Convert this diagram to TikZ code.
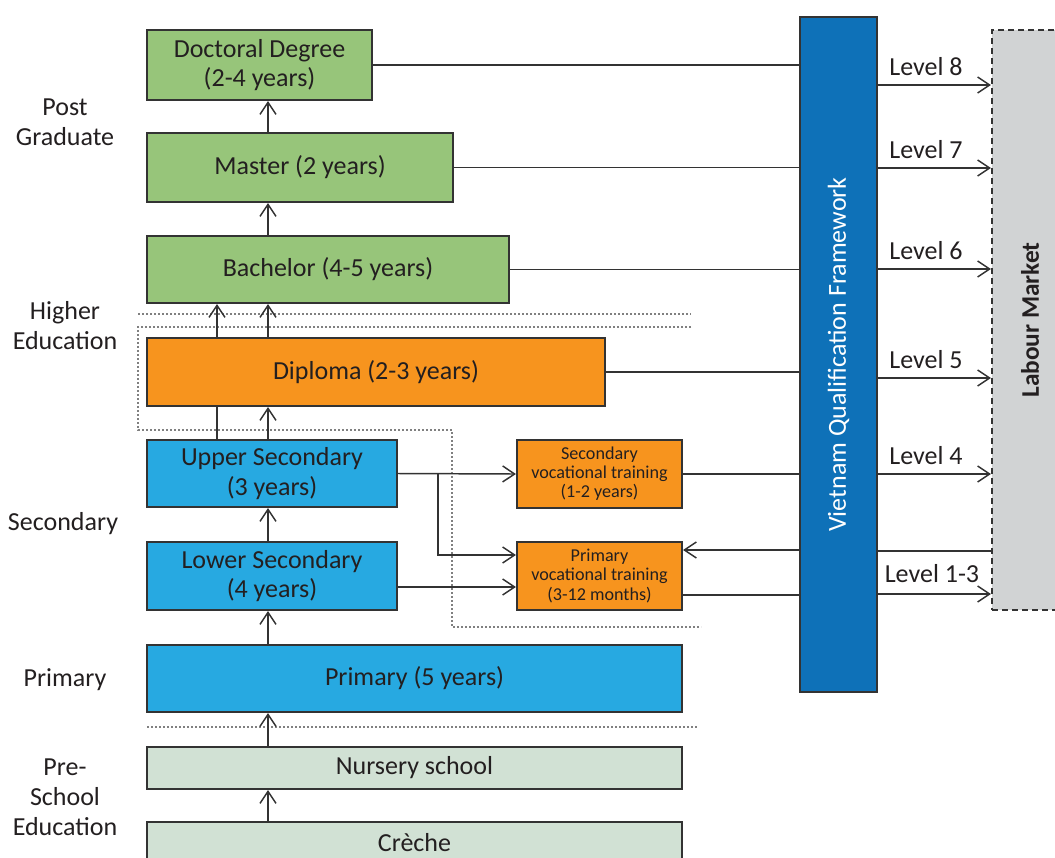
\documentclass[tikz,border=0pt]{standalone}
\usepackage{fontspec}
\setmainfont{Carlito}
\usetikzlibrary{arrows.meta}
\definecolor{gr}{HTML}{97C57A}
\definecolor{orn}{HTML}{F7941E}
\definecolor{lb}{HTML}{27A9E1}
\definecolor{db}{HTML}{0E71B8}
\definecolor{nur}{HTML}{D1E1D4}
\definecolor{lab}{HTML}{D1D3D4}
\definecolor{txt}{HTML}{231F20}
\definecolor{bord}{HTML}{333333}
\definecolor{dotc}{HTML}{808080}
\begin{document}
\begin{tikzpicture}[x=0.75pt,y=-0.75pt,
  box/.style={draw=bord, line width=1.6pt, text=txt, font=\fontsize{19.5}{22}\selectfont, align=center, inner sep=0pt},
  small/.style={box, font=\fontsize{13.6}{14.3}\selectfont},
  side/.style={text=txt, font=\fontsize{19.5}{22.5}\selectfont, align=center, inner sep=0pt},
  lvl/.style={text=txt, font=\fontsize{19.5}{22}\selectfont, inner sep=0pt, anchor=base west},
  conn/.style={draw=bord, line width=1.1pt},
  arr/.style={conn, -{Straight Barb[length=9pt,width=12pt,line width=1.1pt]}},
  dotline/.style={draw=dotc, line width=0.9pt, dash pattern=on 1.4pt off 1.6pt}]
\useasboundingbox (0,0) rectangle (1055,857);
% boxes
\node[box, fill=gr, minimum width=168.75pt, minimum height=52.5pt] (doc) at (259.5,65) {Doctoral Degree\\(2-4 years)};
\node[box, fill=gr, minimum width=229.5pt, minimum height=51.75pt] (master) at (300,167.5) {Master (2 years)};
\node[box, fill=gr, minimum width=271.5pt, minimum height=50.25pt] (bach) at (328,269.5) {Bachelor (4-5 years)};
\node[box, fill=orn, minimum width=343.5pt, minimum height=51pt] (dipl) at (376,372) {Diploma (2-3 years)};
\node[box, fill=lb, minimum width=187.5pt, minimum height=50.25pt] (upper) at (272,473.5) {Upper Secondary\\(3 years)};
\node[box, fill=lb, minimum width=187.5pt, minimum height=51pt] (lower) at (272,576) {Lower Secondary\\(4 years)};
\node[box, fill=lb, minimum width=401.25pt, minimum height=50.25pt] (prim) at (414.5,678.5) {Primary (5 years)};
\node[box, fill=nur, minimum width=401.25pt, minimum height=31.5pt] (nurs) at (414.5,768) {Nursery school};
\node[box, fill=nur, minimum width=401.25pt, minimum height=31.5pt] (creche) at (414.5,843) {Crèche};
\node[small, fill=orn, minimum width=123.75pt, minimum height=51pt] (secvoc) at (599.5,474) {Secondary\\vocational training\\(1-2 years)};
\node[small, fill=orn, minimum width=123.75pt, minimum height=51pt] (primvoc) at (599.5,576) {Primary\\vocational training\\(3-12 months)};
\node[draw=bord, line width=1.6pt, fill=db, minimum width=57.75pt, minimum height=506.25pt,
  label={[rotate=90, text=white, font=\fontsize{19.5}{22}\selectfont]center:Vietnam Qualification Framework}] (vqf) at (838.5,354.5) {};
\node[draw=bord, line width=1.6pt, dash pattern=on 4.5pt off 3pt, fill=lab, minimum width=57pt, minimum height=435pt,
  label={[rotate=90, text=txt, font=\fontsize{19}{22}\selectfont\bfseries]center:Labour Market}] (labour) at (1030,320) {};
% side labels
\node[side] (lpg) at (65,122) {Post\\Graduate};
\node[side] (lhe) at (65,326) {Higher\\Education};
\node[side] (lsec) at (63,524) {Secondary};
\node[side] (lpr) at (65,680) {Primary};
\node[side] (lpre) at (65,797) {Pre-\\School\\Education};
% dotted separators
\draw[dotline] (138,314) -- (691,314);
\draw[dotline] (691,327) -- (138,327) -- (138,430) -- (452,430) -- (452,627) -- (701,627);
\draw[dotline] (147,727) -- (697,727);
% vertical arrows
\coordinate (xa) at (268,0);
\coordinate (xb) at (217,0);
\draw[arr] (master.north -| xa) -- (doc.south -| xa);
\draw[arr] (bach.north -| xa) -- (master.south -| xa);
\draw[arr] (dipl.north -| xa) -- (bach.south -| xa);
\draw[arr] (dipl.north -| xb) -- (bach.south -| xb);
\draw[arr] (upper.north -| xa) -- (dipl.south -| xa);
\draw[conn] (upper.north -| xb) -- (dipl.south -| xb);
\draw[arr] (lower.north -| xa) -- (upper.south -| xa);
\draw[arr] (prim.north -| xa) -- (lower.south -| xa);
\draw[arr] (nurs.north -| xa) -- (prim.south -| xa);
\draw[arr] (creche.north -| xa) -- (nurs.south -| xa);
% to VQF
\draw[conn] (doc.east) -- (doc.east -| vqf.west);
\draw[conn] (master.east) -- (master.east -| vqf.west);
\draw[conn] (bach.east) -- (bach.east -| vqf.west);
\draw[conn] (dipl.east) -- (dipl.east -| vqf.west);
\draw[conn] (secvoc.east) -- (secvoc.east -| vqf.west);
\coordinate (ypv) at (0,595);
\draw[conn] (primvoc.east |- ypv) -- (vqf.west |- ypv);
\coordinate (yback) at (0,550);
\draw[arr] (vqf.west |- yback) -- (primvoc.east |- yback);
% to vocational
\draw[arr] (upper.east) -- (secvoc.west);
\coordinate (br) at (438,474);
\coordinate (ybr) at (0,555);
\draw[arr] (br) |- (primvoc.west |- ybr);
\coordinate (ylow) at (0,587);
\draw[arr] (lower.east |- ylow) -- (primvoc.west |- ylow);
% levels
\coordinate (l8) at (0,85);
\coordinate (l7) at (0,168);
\coordinate (l6) at (0,269);
\coordinate (l5) at (0,378);
\coordinate (l4) at (0,474);
\coordinate (lx) at (0,551);
\coordinate (l13) at (0,594);
\draw[arr] (vqf.east |- l8) -- (labour.west |- l8) node[lvl, pos=0, xshift=8pt, yshift=7.5pt] {Level 8};
\draw[arr] (vqf.east |- l7) -- (labour.west |- l7) node[lvl, pos=0, xshift=8pt, yshift=7.5pt] {Level 7};
\draw[arr] (vqf.east |- l6) -- (labour.west |- l6) node[lvl, pos=0, xshift=8pt, yshift=7.5pt] {Level 6};
\draw[arr] (vqf.east |- l5) -- (labour.west |- l5) node[lvl, pos=0, xshift=8pt, yshift=7.5pt] {Level 5};
\draw[arr] (vqf.east |- l4) -- (labour.west |- l4) node[lvl, pos=0, xshift=8pt, yshift=7.5pt] {Level 4};
\draw[conn] (vqf.east |- lx) -- (labour.west |- lx);
\draw[arr] (vqf.east |- l13) -- (labour.west |- l13) node[lvl, pos=0, xshift=4.5pt, yshift=9pt] {Level 1-3};
\end{tikzpicture}
\end{document}
